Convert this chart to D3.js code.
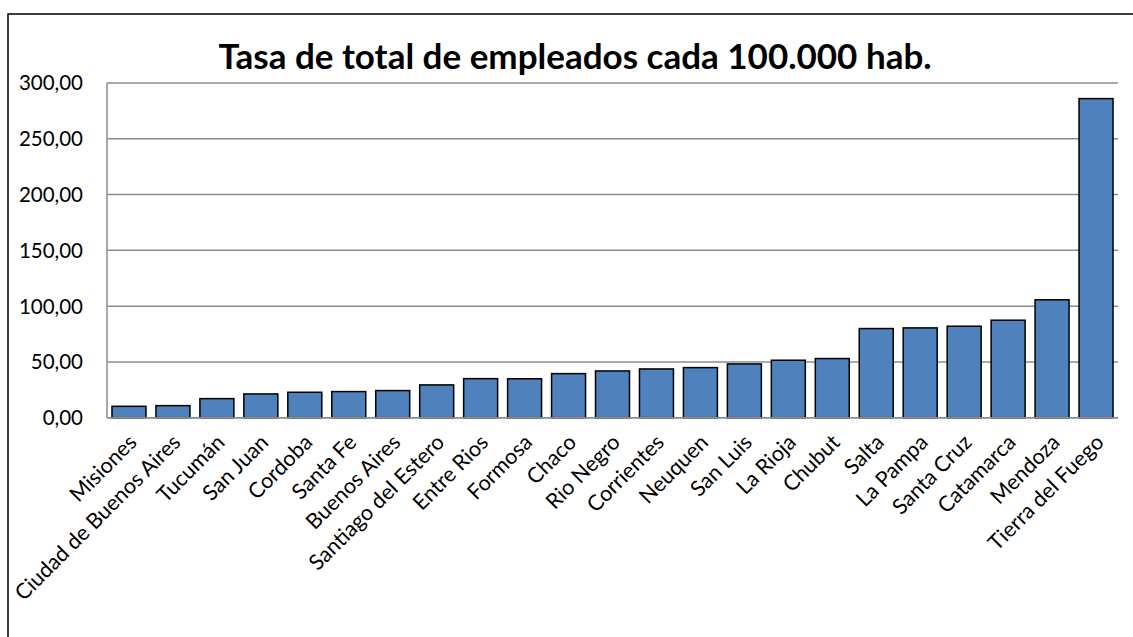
<!DOCTYPE html>
<html><head><meta charset="utf-8">
<script src="https://cdn.jsdelivr.net/npm/d3@7/dist/d3.min.js"></script>
<style>body{margin:0;background:#fff}svg{display:block}</style>
</head><body>
<svg id="chart" width="1133" height="637"></svg>
<script>
const categories = ["Misiones","Ciudad de Buenos Aires","Tucumán","San Juan","Cordoba","Santa Fe","Buenos Aires","Santiago del Estero","Entre Rios","Formosa","Chaco","Rio Negro","Corrientes","Neuquen","San Luis","La Rioja","Chubut","Salta","La Pampa","Santa Cruz","Catamarca","Mendoza","Tierra del Fuego"];
const values = [10.2,10.8,17.1,21.3,22.8,23.4,24.3,29.4,35.0,34.9,39.5,41.9,43.7,44.9,48.2,51.5,53.0,79.9,80.5,82.0,87.4,105.7,286.0];
const yTicks = [0,50,100,150,200,250,300];
const title = "Tasa de total de empleados cada 100.000 hab.";

const svg = d3.select("#chart");
const font = "Lato, 'Open Sans', sans-serif";
const m = {left:107, right:1118, top:83, bottom:417.7};

svg.append("rect").attr("x",8).attr("y",14).attr("width",1200).attr("height",700)
  .attr("fill","#fff").attr("stroke","#000").attr("stroke-width",1.5);

const x = d3.scaleBand().domain(categories).range([m.left,m.right]).paddingInner(0.227).paddingOuter(0.1135);
const y = d3.scaleLinear().domain([0,300]).range([m.bottom,m.top]);

// grid
svg.append("g").selectAll("line").data(yTicks).join("line")
  .attr("x1",m.left).attr("x2",m.right).attr("y1",d=>y(d)).attr("y2",d=>y(d))
  .attr("stroke","#8c8c8c").attr("stroke-width",1.5);
svg.append("line").attr("x1",m.left).attr("x2",m.left).attr("y1",m.top).attr("y2",m.bottom)
  .attr("stroke","#8c8c8c").attr("stroke-width",1.5);

// bars
svg.append("g").selectAll("rect").data(values).join("rect")
  .attr("x",(d,i)=>x(categories[i])).attr("width",x.bandwidth())
  .attr("y",d=>y(d)).attr("height",d=>y(0)-y(d))
  .attr("fill","#4f81bd").attr("stroke","#000").attr("stroke-width",1.5);

// baseline
svg.append("line").attr("x1",m.left).attr("x2",m.right).attr("y1",y(0)).attr("y2",y(0))
  .attr("stroke","#8c8c8c").attr("stroke-width",1.5);

// y labels
svg.append("g").selectAll("text").data(yTicks).join("text")
  .attr("x",83).attr("y",d=>y(d)).attr("dy","0.36em").attr("text-anchor","end")
  .attr("font-family",font).attr("font-size",20.5).attr("fill","#000")
  .text(d=>d3.format(".2f")(d).replace(".",","));

// x labels
svg.append("g").selectAll("text").data(categories).join("text")
  .attr("text-anchor","end").attr("font-family",font).attr("font-size",21.5).attr("fill","#000")
  .attr("transform",d=>`translate(${x(d)+x.bandwidth()/2+9},${m.bottom+26}) rotate(-45)`)
  .text(d=>d);

// title
svg.append("text").attr("x",575).attr("y",69).attr("text-anchor","middle")
  .attr("font-family",font).attr("font-size",35).attr("font-weight","bold").attr("fill","#000")
  .text(title);
</script>
</body></html>
